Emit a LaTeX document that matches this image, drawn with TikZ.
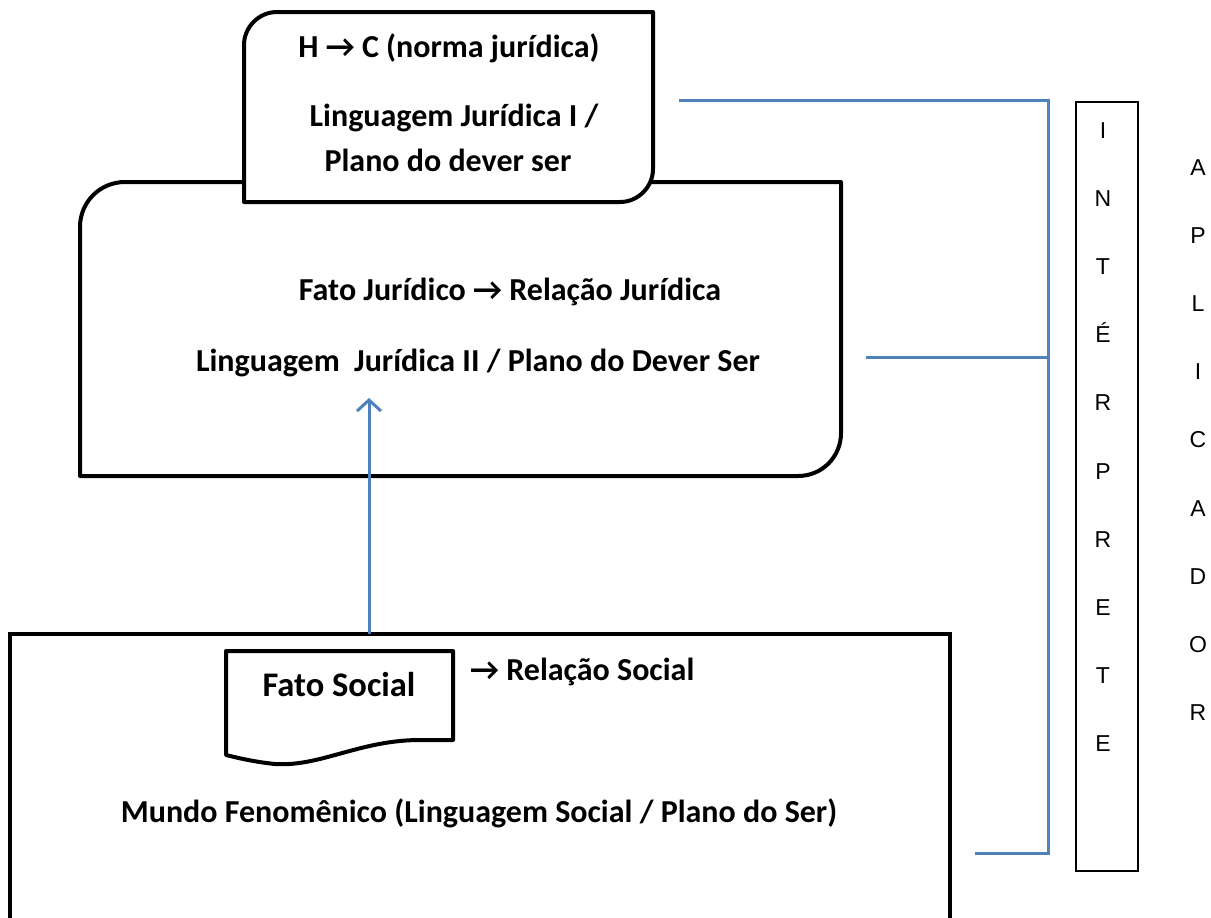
\documentclass[tikz,border=0pt]{standalone}
\usepackage{fontspec}
\setmainfont{Carlito}
\newfontfamily\letterfont{Liberation Sans}
\usetikzlibrary{arrows.meta}
\definecolor{linkblue}{HTML}{4F81BD}

\begin{document}
\begin{tikzpicture}[x=1pt, y=-1pt,
    frame/.style={draw, line width=4pt, line join=round, fill=white},
    txt/.style={font=\fontsize{32}{38}\selectfont\bfseries, anchor=base, inner sep=0pt},
    link/.style={draw=linkblue, line width=3pt},
    letters/.style={font=\letterfont\fontsize{23}{68.2}\selectfont, align=center, anchor=north, inner sep=0pt}]
    \useasboundingbox (0,0) rectangle (1211,918);

    % bottom box (open at the bottom edge)
    \draw[line width=4pt] (10,930) -- (10,634) -- (950,634) -- (950,930);

    % middle box
    \draw[frame] (80,476) -- (80,227) .. controls (80,202) and (100,182) .. (125,182)
        -- (841,182) -- (841,433) .. controls (841,457) and (822,476) .. (798,476) -- cycle;

    % top box
    \draw[frame] (244,202) -- (244,45) .. controls (244,27) and (259,12) .. (277,12)
        -- (653,12) -- (653,169) .. controls (653,187) and (638,202) .. (620,202) -- cycle;

    % document shape
    \draw[line width=4pt, line join=round] (226,651) -- (453,651) -- (453,740) -- (420,740)
        .. controls (360,740) and (320,767) .. (275,764)
        .. controls (255,762) and (238,758) .. (226,755) -- cycle;

    \node(norma)[txt] at (449,57) {H → C (norma jurídica)};
    \node(lingI)[txt] at (454,126) {Linguagem Jurídica I /};
    \node(planoI)[txt] at (448,171) {Plano do dever ser};
    \node(fatojur)[txt] at (510,300) {Fato Jurídico → Relação Jurídica};
    \node(lingII)[txt] at (478,371) {Linguagem \ Jurídica II / Plano do Dever Ser};
    \node(fatosoc)[txt, font=\fontsize{34.5}{41}\selectfont\bfseries] at (339,696) {Fato Social};
    \node(relsoc)[txt, anchor=base west] at (470,680) {→ Relação Social};
    \node(mundo)[txt] at (479,822) {Mundo Fenomênico (Linguagem Social / Plano do Ser)};

    % interprete / aplicador
    \draw[line width=1.3pt] (1076,102) rectangle (1138,871);
    \node(interprete)[letters] at (1103,122) {I\\N\\T\\É\\R\\P\\R\\E\\T\\E};
    \node(aplicador)[letters] at (1198,159) {A\\P\\L\\I\\C\\A\\D\\O\\R};

    % connectors
    \coordinate(src) at (369,634);
    \coordinate(tip) at (369,398);
    \draw[link, -{Straight Barb[length=11pt, width=24pt, line width=3pt]}] (src) -- (tip);

    \coordinate(ltop) at (679,100);
    \coordinate(lmid) at (866,357);
    \coordinate(lbot) at (975,853);
    \coordinate(ctop) at (1048,100);
    \coordinate(cmid) at (1048,357);
    \coordinate(cbot) at (1048,853);
    \draw[link] (ltop) -- (ctop) -- (cbot) -- (lbot);
    \draw[link] (lmid) -- (cmid);
\end{tikzpicture}
\end{document}
